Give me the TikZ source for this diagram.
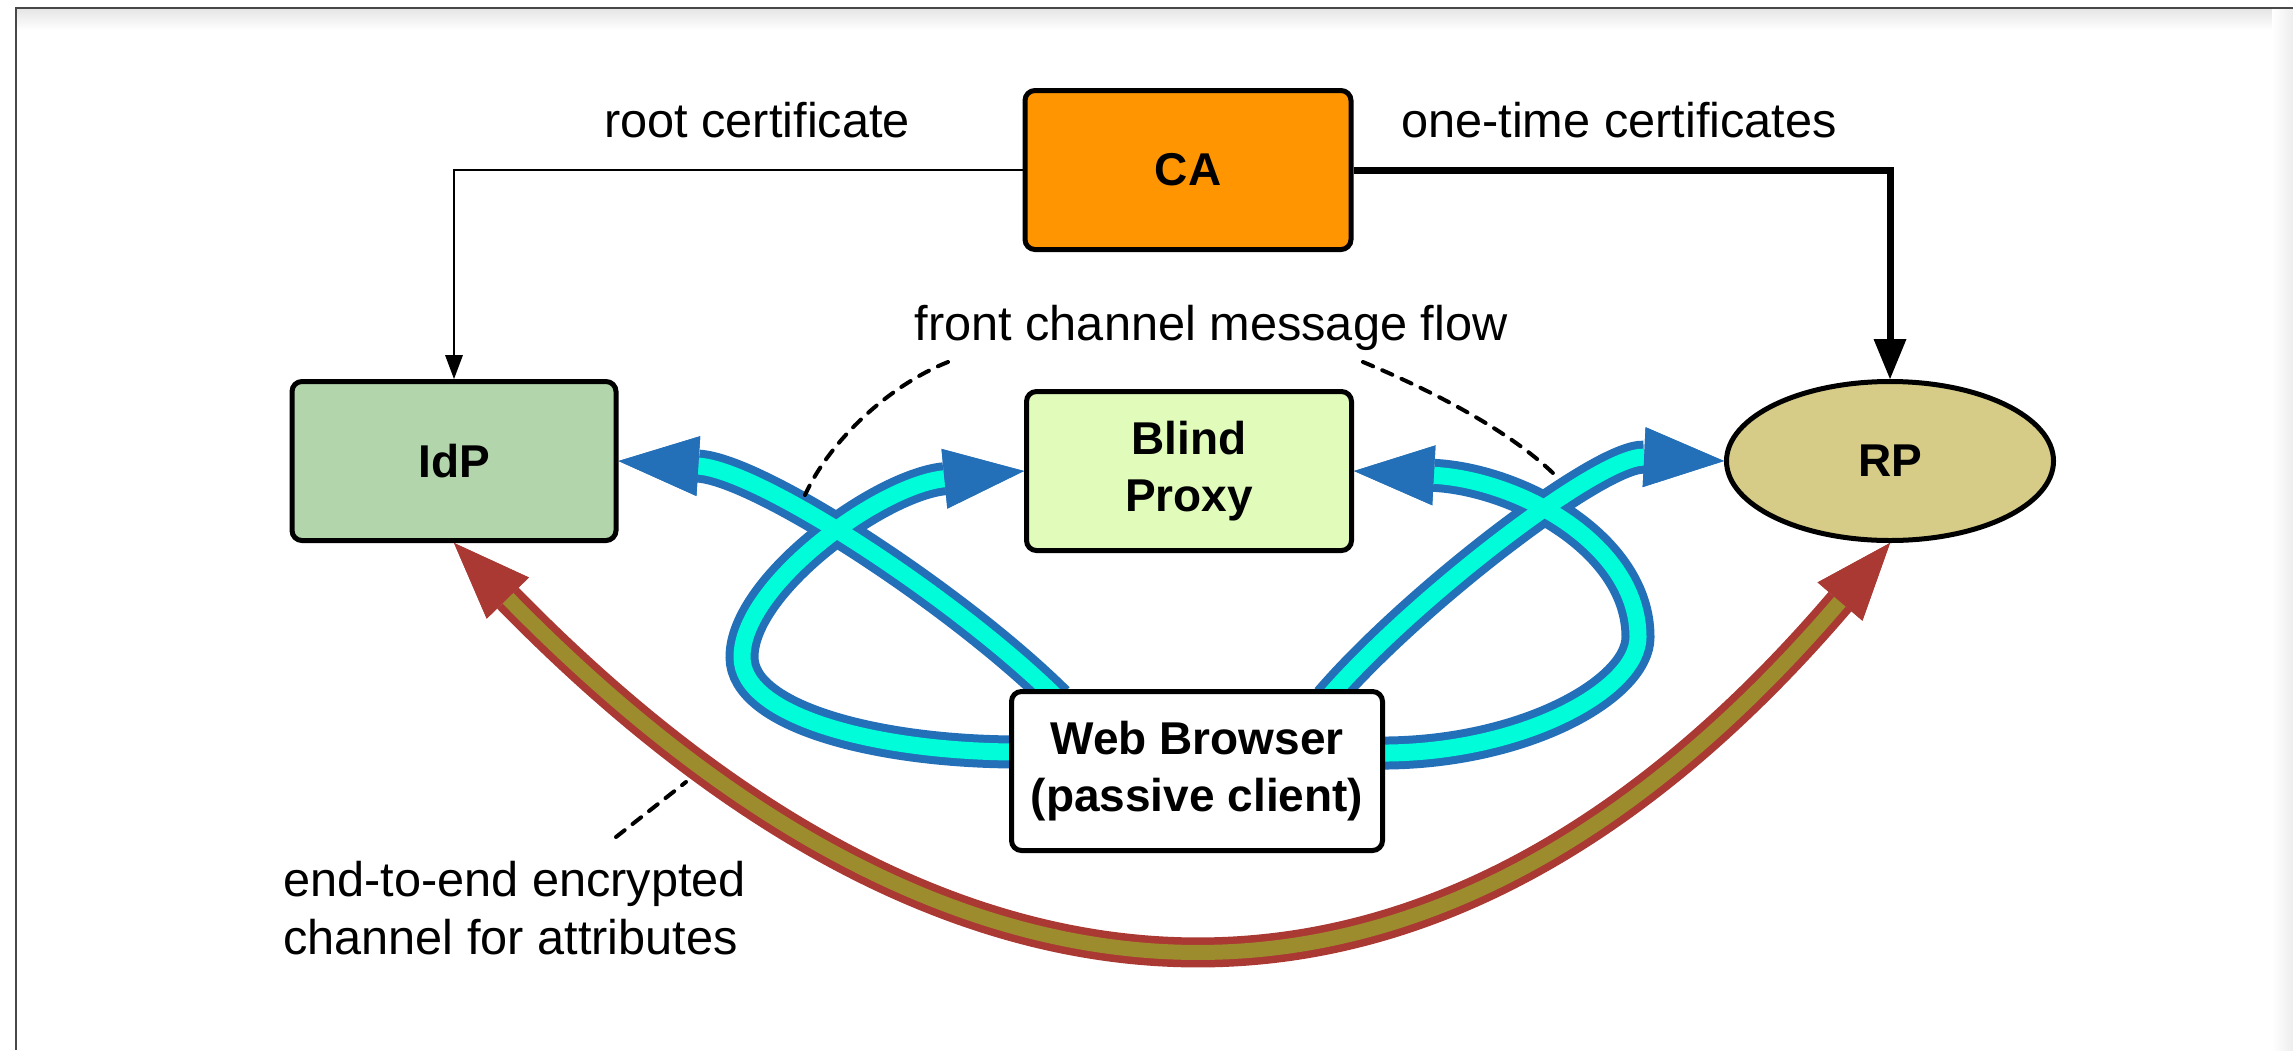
\documentclass[tikz,border=0pt]{standalone}
\usepackage{fontspec}
\setmainfont{Liberation Sans}
\usetikzlibrary{arrows.meta,shapes.geometric,calc}

\definecolor{caorange}{RGB}{255,149,0}
\definecolor{idpgreen}{RGB}{179,213,172}
\definecolor{proxygreen}{RGB}{225,251,187}
\definecolor{rpkhaki}{RGB}{214,203,135}
\definecolor{flowblue}{RGB}{35,112,185}
\definecolor{flowcyan}{RGB}{0,252,216}
\definecolor{chanred}{RGB}{170,57,52}
\definecolor{chanolive}{RGB}{157,140,46}
\definecolor{framegray}{RGB}{72,72,72}

\pgfdeclarelayer{paper}
\pgfdeclarelayer{tubes}
\pgfsetlayers{paper,tubes,main}

\newcommand\partyfont{\bfseries\fontsize{46}{57}\selectfont}
\newcommand\notefont{\fontsize{48.7}{58}\selectfont}

\tikzset{
  party/.style={draw=black, line width=5pt, rounded corners=10pt,
    minimum width=325pt, minimum height=159pt, inner sep=0pt,
    align=center, font=\partyfont},
  partyoval/.style={ellipse, draw=black, line width=5pt,
    minimum width=327pt, minimum height=159pt, inner sep=0pt,
    font=\partyfont},
  note/.style={inner sep=0pt, font=\notefont},
  leader/.style={draw=black, line width=4pt, line cap=round,
    dash pattern=on 11pt off 10pt},
  flowtip/.style={arrows={-Triangle[length=80pt 0 0, width=60pt 0 0,
    line width=0pt 0 0, color=flowblue]}},
  flowouter/.style={draw=flowblue, line width=33pt, flowtip},
  flowinner/.style={draw=flowcyan, line width=17pt, flowtip},
  chantips/.style={arrows={Triangle[length=77pt 0 0, width=59pt 0 0,
    line width=0pt 0 0, color=chanred]-Triangle[length=77pt 0 0,
    width=59pt 0 0, line width=0pt 0 0, color=chanred]}},
  chanouter/.style={draw=chanred, line width=30pt, chantips},
  chaninner/.style={draw=chanolive, line width=15pt, chantips},
  certthin/.style={draw=black, line width=2.5pt,
    arrows={-Triangle[length=24pt 0 0, width=18pt 0 0, line width=0pt 0 0]}},
  certthick/.style={draw=black, line width=7pt,
    arrows={-Triangle[length=40pt 0 0, width=33pt 0 0, line width=0pt 0 0]}},
}

\begin{document}
\begin{tikzpicture}[x=1pt,y=-1pt]
\useasboundingbox (0,0) rectangle (2293,1050);

% sheet with its frame
\begin{pgfonlayer}{paper}
  \fill[white] (0,0) rectangle (2293,1050);
  \shade[top color=black!10, bottom color=white] (17,9) rectangle (2293,30);
  \shade[left color=white, right color=black!7] (2272,9) rectangle (2293,1050);
  \draw[framegray, line width=2.5pt] (16,1050) -- (16,8) -- (2293,8);
\end{pgfonlayer}

% parties
\node[party, fill=caorange, minimum width=326pt] (ca) at (1188,170) {CA};
\node[party, fill=idpgreen, minimum width=324pt] (idp) at (454,461) {IdP};
\node[party, fill=proxygreen] (bp) at (1189,471) {Blind\\Proxy};
\node[party, fill=white, minimum width=371pt] (wb) at (1197,771)
  {Web Browser\\(passive client)};
\node[partyoval, fill=rpkhaki] (rp) at (1890,461) {RP};

% certificate distribution
\draw[certthin] (ca.west) -| (idp.north);
\draw[certthick] (ca.east) -| (rp.north);

% front channel and end-to-end channel
\coordinate (wbtl) at ($(wb.north)+(-139,10)$);
\coordinate (wbtr) at ($(wb.north)+(130,10)$);
\coordinate (wbw) at ($(wb.west)+(10,-19)$);
\coordinate (wbe) at ($(wb.east)+(-10,-18)$);
\begin{pgfonlayer}{tubes}
  \draw[flowouter] (wbtl) .. controls (958,600) and (760,470) .. (idp.east);
  \draw[flowouter] (wbw) .. controls (879,752) and (742,717) .. (742,657)
    .. controls (742,585) and (880,485) .. (bp.west);
  \draw[flowouter] (wbtr) .. controls (1412,600) and (1600,455) .. (rp.west);
  \draw[flowouter] (wbe) .. controls (1520,755) and (1638,690) .. (1638,637)
    .. controls (1638,545) and (1520,480) .. (bp.east);
  \draw[flowinner] (wbtl) .. controls (958,600) and (760,470) .. (idp.east);
  \draw[flowinner] (wbw) .. controls (879,752) and (742,717) .. (742,657)
    .. controls (742,585) and (880,485) .. (bp.west);
  \draw[flowinner] (wbtr) .. controls (1412,600) and (1600,455) .. (rp.west);
  \draw[flowinner] (wbe) .. controls (1520,755) and (1638,690) .. (1638,637)
    .. controls (1638,545) and (1520,480) .. (bp.east);
  \draw[chanouter] (idp.south) .. controls +(515,527) and +(-450,527) .. (rp.south);
  \draw[chaninner] (idp.south) .. controls +(515,527) and +(-450,527) .. (rp.south);
\end{pgfonlayer}

% labels
\node[note, anchor=base] (rootlbl) at (757,137) {root certificate};
\node[note, anchor=base] (otlbl) at (1619,137) {one-time certificates};
\node[note, anchor=base] (fclbl) at (1211,340) {front channel message flow};
\node[note, anchor=base west, align=left] (e2elbl) at (283,954)
  {end-to-end encrypted\\channel for attributes};

% leader lines
\coordinate (fcla) at (948,362);
\coordinate (fclb) at (805,495);
\coordinate (fcra) at (1363,362);
\coordinate (fcrb) at (1557,477);
\coordinate (e2ea) at (616,837);
\coordinate (e2eb) at (686,782);
\draw[leader] (fcla) .. controls (890,385) and (830,440) .. (fclb);
\draw[leader] (fcra) .. controls (1430,390) and (1510,430) .. (fcrb);
\draw[leader] (e2ea) -- (e2eb);
\end{tikzpicture}
\end{document}
